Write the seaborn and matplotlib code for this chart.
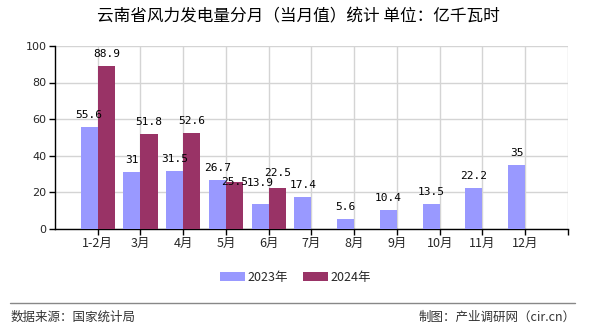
import matplotlib
matplotlib.use("Agg")
import matplotlib.pyplot as plt
import seaborn as sns
import pandas as pd
from matplotlib.lines import Line2D
from matplotlib.patches import Patch

months = ["1-2月", "3月", "4月", "5月", "6月", "7月", "8月", "9月", "10月", "11月", "12月"]
values_2023 = [55.6, 31, 31.5, 26.7, 13.9, 17.4, 5.6, 10.4, 13.5, 22.2, 35]
values_2024 = [88.9, 51.8, 52.6, 25.5, 22.5]
series = ["2023年", "2024年"]
colors = ["#9999FF", "#993366"]
yticks = [0, 20, 40, 60, 80, 100]

# label offsets (pixels above bar top) mimicking the reference's collision avoidance
label_offsets = {("2023年", "6月"): 21, ("2024年", "5月"): 0, ("2024年", "6月"): 15}

rows = []
for m, v in zip(months, values_2023):
    rows.append({"month": m, "value": v, "year": series[0]})
for m, v in zip(months, values_2024):
    rows.append({"month": m, "value": v, "year": series[1]})
df = pd.DataFrame(rows)

sns.set_theme(style="white")
plt.rcParams["font.family"] = ["Noto Sans CJK SC", "DejaVu Sans"]

fig = plt.figure(figsize=(5.9, 3.3), dpi=100)
ax = fig.add_axes([0.0932, 0.306, 0.8695, 0.555])

sns.barplot(data=df, x="month", y="value", hue="year", order=months,
            hue_order=series, palette=colors, width=0.8, saturation=1,
            errorbar=None, ax=ax, legend=False, zorder=3, linewidth=0)

px2pt = 72.0 / fig.dpi
for year, c in zip(series, ax.containers):
    vals = values_2023 if year == series[0] else values_2024
    for bar, m, v in zip(c, months, vals):
        off = label_offsets.get((year, m), 12)
        ax.annotate(f"{v:g}", (bar.get_x() + bar.get_width() / 2, bar.get_height()),
                    xytext=(0, off * px2pt), textcoords="offset points",
                    ha="center", va="center", fontsize=8,
                    family="DejaVu Sans Mono", color="black", zorder=5)

ax.set_xlim(-1, 11)
ax.set_ylim(0, 100)
ax.set_xticks(range(12))
ax.set_xticklabels(months + [""], fontsize=9)
ax.set_yticks(yticks)
ax.set_yticklabels([str(t) for t in yticks], fontsize=8, family="DejaVu Sans")
ax.grid(True, color="#d4d4d4", linewidth=1, zorder=0)
ax.set_axisbelow(True)
ax.set_xlabel("")
ax.set_ylabel("")
for s in ["top", "right"]:
    ax.spines[s].set_visible(False)
for s in ["left", "bottom"]:
    ax.spines[s].set_color("black")
    ax.spines[s].set_linewidth(1)
ax.tick_params(axis="both", which="both", direction="out", length=4, width=1,
               color="black", bottom=True, left=True, pad=2)

fig.text(0.505, 0.948, "云南省风力发电量分月（当月值）统计 单位：亿千瓦时",
         ha="center", va="center", fontsize=12, color="black")

handles = [Patch(facecolor=c, edgecolor="none") for c in colors]
fig.legend(handles, series, loc="center", bbox_to_anchor=(0.5, 0.16), ncol=2,
           frameon=False, fontsize=9, handlelength=2.0, handleheight=0.8,
           columnspacing=1.2, handletextpad=0.2)

fig.add_artist(Line2D([0.017, 0.975], [0.082, 0.082], color="#888888", linewidth=1))
fig.text(0.017, 0.04, "数据来源：国家统计局", ha="left", va="center", fontsize=9, color="#333333")
fig.text(0.975, 0.04, "制图：产业调研网（cir.cn）", ha="right", va="center", fontsize=9, color="#333333")

fig.savefig("out.png", dpi=100)
